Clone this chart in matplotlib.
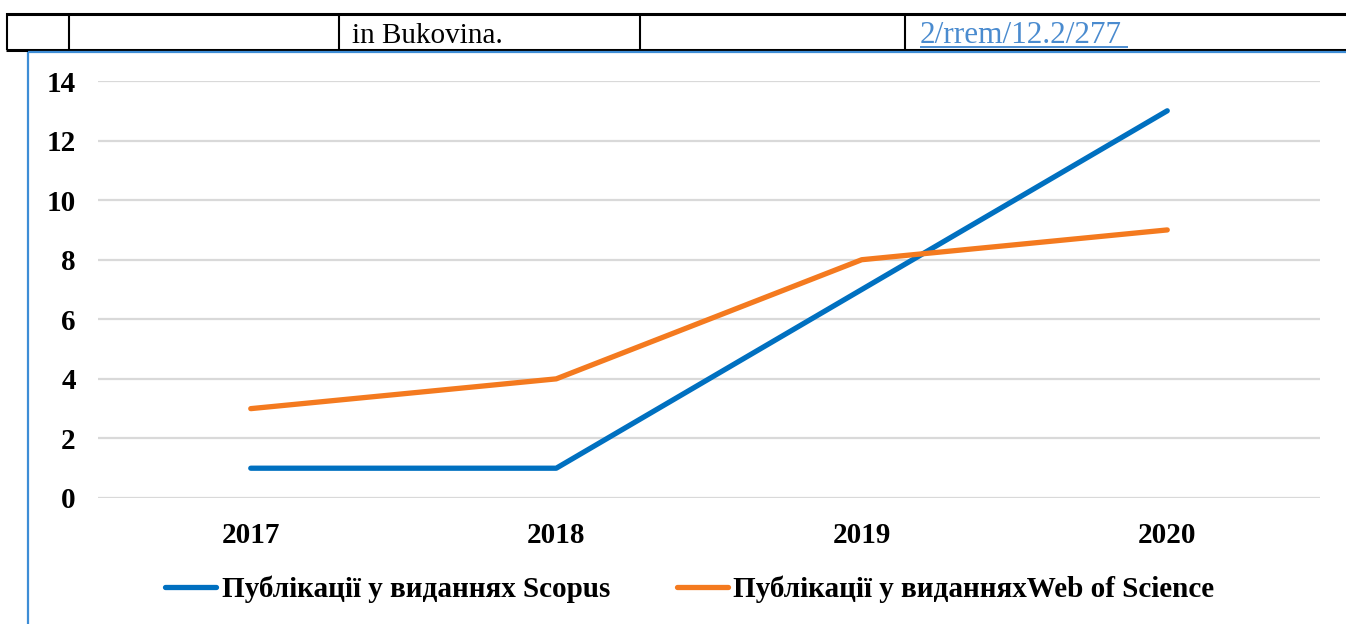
import matplotlib
matplotlib.use("Agg")
import matplotlib.pyplot as plt
from matplotlib.lines import Line2D

W, H = 1346, 624

years = ["2017", "2018", "2019", "2020"]
scopus = [1, 1, 7, 13]
wos = [3, 4, 8, 9]
y_ticks = [0, 2, 4, 6, 8, 10, 12, 14]

label_scopus = "Публікації у виданнях Scopus"
label_wos = "Публікації у виданняхWeb of Science"

BLUE = "#0070C0"
ORANGE = "#F47A1F"
FRAME_BLUE = "#3E8DD6"

plt.rcParams["font.family"] = ["Liberation Serif", "DejaVu Serif"]


def fx(x):
    return x / W


def fy(y):
    return 1 - y / H


def hline(fig, y, x0, x1, color="black", lw=2.0):
    fig.add_artist(Line2D([fx(x0), fx(x1)], [fy(y), fy(y)], color=color,
                          lw=lw, transform=fig.transFigure, solid_capstyle="butt"))


def vline(fig, x, y0, y1, color="black", lw=1.5):
    fig.add_artist(Line2D([fx(x), fx(x)], [fy(y0), fy(y1)], color=color,
                          lw=lw, transform=fig.transFigure, solid_capstyle="butt"))


fig = plt.figure(figsize=(W / 100, H / 100), dpi=100)

# table fragment above the chart
hline(fig, 13.5, 6, W, lw=2.2)
hline(fig, 49.5, 6, W, lw=2.2)
for x in [7, 69, 339, 640, 905]:
    vline(fig, x, 13, 50)
fig.text(fx(352), fy(43), "in Bukovina.", fontsize=21, va="baseline", ha="left")
fig.text(fx(920), fy(43), "2/rrem/12.2/277", fontsize=22.5, va="baseline",
         ha="left", color="#4A8BCF")
hline(fig, 46.5, 920, 1128, color="#4A8BCF", lw=1.4)

# chart frame
hline(fig, 52, 28, W, color=FRAME_BLUE, lw=1.6)
vline(fig, 28, 52, H, color=FRAME_BLUE, lw=1.6)

ax = fig.add_axes([fx(98), fy(498), (1320 - 98) / W, (498 - 81) / H])
x = range(len(years))
ax.plot(x, scopus, color=BLUE, lw=3.8, solid_capstyle="round", label=label_scopus, zorder=3)
ax.plot(x, wos, color=ORANGE, lw=3.8, solid_capstyle="round", label=label_wos, zorder=3)

ax.set_xlim(-0.5, len(years) - 0.5)
ax.set_ylim(0, 14)
ax.set_yticks(y_ticks)
ax.set_xticks(list(x))
ax.set_xticklabels(years)
ax.yaxis.grid(True, color="#D9D9D9", lw=1.6)
ax.set_axisbelow(True)
for s in ax.spines.values():
    s.set_visible(False)
ax.tick_params(length=0, labelsize=21, pad=0)
ax.tick_params(axis="y", pad=16)
ax.tick_params(axis="x", pad=17)
for lab in ax.get_xticklabels() + ax.get_yticklabels():
    lab.set_fontweight("bold")

fig.legend(loc="center", bbox_to_anchor=(fx(690), fy(589)), ncol=2, frameon=False,
           handlelength=1.75, handletextpad=0.18, columnspacing=2.3,
           prop={"size": 21, "weight": "bold"})

fig.savefig("out.png", dpi=100)
